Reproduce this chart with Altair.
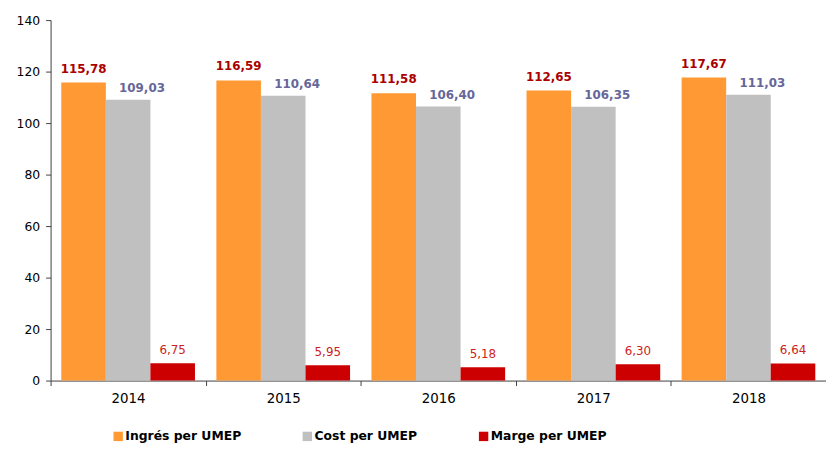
import altair as alt
import pandas as pd

years = ["2014", "2015", "2016", "2017", "2018"]
series = ["Ingrés per UMEP", "Cost per UMEP", "Marge per UMEP"]
ingres = [115.78, 116.59, 111.58, 112.65, 117.67]
cost = [109.03, 110.64, 106.40, 106.35, 111.03]
marge = [6.75, 5.95, 5.18, 6.30, 6.64]
colors = ["#FF9933", "#C0C0C0", "#CC0000"]
y_ticks = [0, 20, 40, 60, 80, 100, 120, 140]

rows = []
for i, yr in enumerate(years):
    for s, vals in zip(series, [ingres, cost, marge]):
        rows.append({"year": yr, "series": s, "value": vals[i],
                     "label": f"{vals[i]:.2f}".replace(".", ",")})
df = pd.DataFrame(rows)

FONT = "DejaVu Sans"
AXIS_COLOR = "#404040"

x = alt.X("year:N", scale=alt.Scale(paddingInner=0, paddingOuter=0),
          axis=alt.Axis(title=None, labelAngle=0, tickBand="extent",
                        labelFont=FONT, labelFontSize=13.5, labelColor="#000000",
                        labelPadding=6, tickSize=5, domainColor=AXIS_COLOR,
                        tickColor=AXIS_COLOR))
xo = alt.XOffset("series:N", sort=series,
                 scale=alt.Scale(domain=series, paddingOuter=0.24, paddingInner=0))
y = alt.Y("value:Q", scale=alt.Scale(domain=[0, 140], nice=False),
          axis=alt.Axis(title=None, values=y_ticks, grid=False, labelFont=FONT,
                        labelFontSize=12.5, labelColor="#000000", labelPadding=6,
                        tickSize=5, domainColor=AXIS_COLOR, tickColor=AXIS_COLOR))

bars = alt.Chart(df).mark_bar().encode(
    x=x, xOffset=xo, y=y,
    color=alt.Color("series:N", sort=series,
                    scale=alt.Scale(domain=series, range=colors),
                    legend=alt.Legend(title=None, orient="none", direction="horizontal",
                                      legendX=62, legendY=414, symbolType="square",
                                      symbolSize=90, symbolStrokeWidth=0,
                                      labelFont=FONT, labelFontSize=12.5,
                                      labelFontWeight="bold", labelColor="#000000",
                                      labelOffset=1, columnPadding=60)),
)

def label_layer(s, color, weight, dx, dy):
    return alt.Chart(df).transform_filter(alt.datum.series == s).mark_text(
        font=FONT, fontSize=12, fontWeight=weight, color=color,
        baseline="alphabetic", align="center", dx=dx, dy=dy
    ).encode(x=x, xOffset=xo, y=y, text="label:N")

chart = alt.layer(
    bars,
    label_layer(series[0], "#AA0000", "bold", 0, -10),
    label_layer(series[1], "#666699", "bold", 14, -8),
    label_layer(series[2], "#CC2222", "normal", 0, -9.5),
).properties(
    width=783, height=364,
    autosize=alt.AutoSizeParams(type="none"),
    padding={"left": 43, "top": 10, "right": 0, "bottom": 80},
).configure_view(stroke=None)

chart.save("out.html", embed_options={"renderer": "svg", "actions": False})
